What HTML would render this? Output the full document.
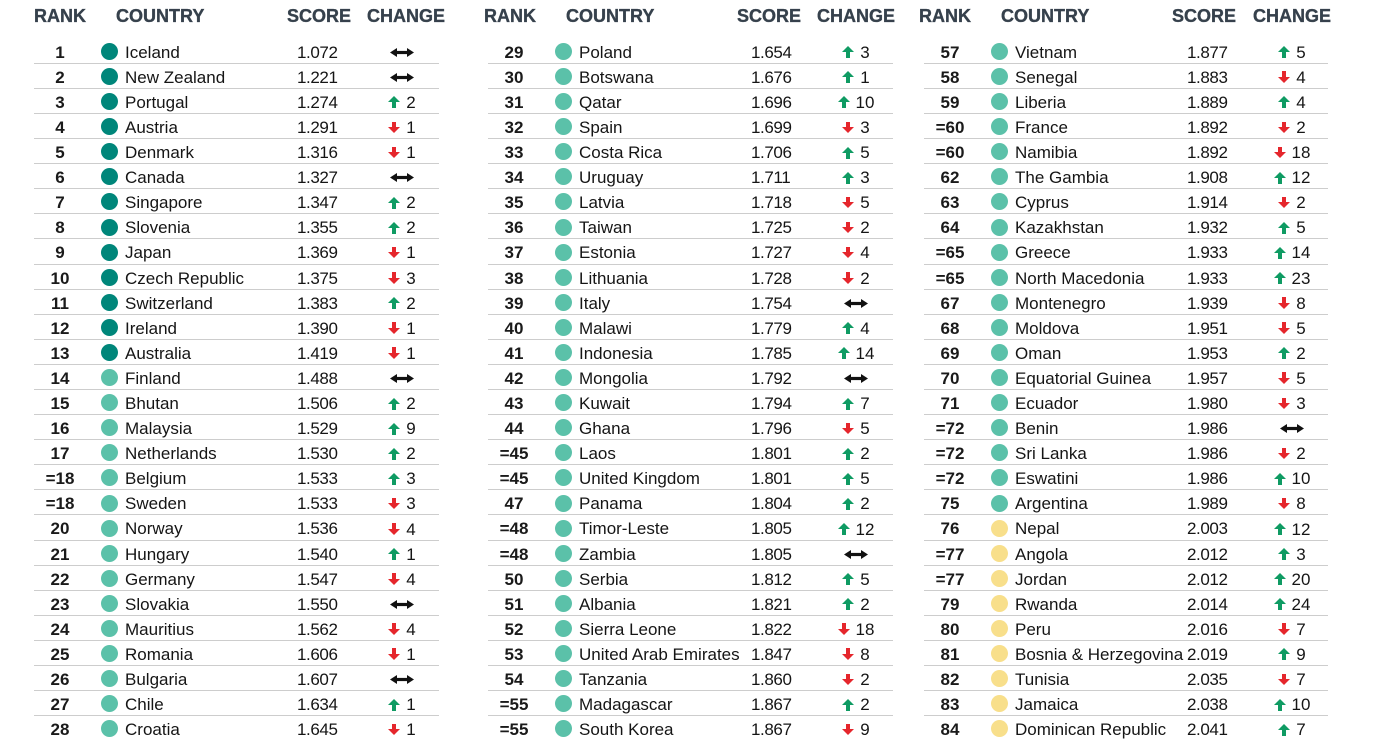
<!DOCTYPE html>
<html><head><meta charset="utf-8"><style>
*{margin:0;padding:0}
html,body{width:1382px;height:752px;background:#fff;overflow:hidden;font-family:"Liberation Sans",Arial,sans-serif;color:#151515}
.h{position:absolute;top:5.7px;line-height:20px;font-size:18px;font-weight:bold;color:#36414c;white-space:nowrap;-webkit-text-stroke:0.35px #36414c}
.col{position:absolute;top:38.7px;width:405px}
.r{position:relative;height:25.1px;font-size:17px}
.r::after{content:"";position:absolute;left:0;right:0;top:24.1px;height:1px;background:#cdcdcd}
.r:last-child::after{display:none}
.r b{position:absolute;left:0;width:52px;text-align:center;top:1px;line-height:25px;font-weight:bold;color:#1a1a1a}
.r i{position:absolute;left:66.5px;top:4.2px;width:17px;height:17px;border-radius:50%}
.d{background:#00867a}.l{background:#5bc1a9}.y{background:#f8df8b}
.n{position:absolute;left:91px;top:1px;line-height:25px;white-space:nowrap}
.s{position:absolute;left:263px;top:1px;line-height:25px;letter-spacing:-0.4px}
.ch{position:absolute;left:318px;width:100px;top:0;height:25.1px;padding-top:2px;box-sizing:border-box;display:flex;align-items:center;justify-content:center;gap:6px;line-height:17px}
.u,.dn{display:block;flex:0 0 12px;width:12px;height:12px;position:relative}
.u::before{content:"";position:absolute;left:0;top:0;border-left:6px solid transparent;border-right:6px solid transparent;border-bottom:6.5px solid #0f9b63}
.u::after{content:"";position:absolute;left:4px;top:6px;width:4.2px;height:6px;background:#0f9b63}
.dn::before{content:"";position:absolute;left:0;top:5.5px;border-left:6px solid transparent;border-right:6px solid transparent;border-top:6.5px solid #e5262c}
.dn::after{content:"";position:absolute;left:4px;top:0;width:4.2px;height:6px;background:#e5262c}
.eq{display:block;flex:0 0 24px}
</style></head><body>

<div class="h" style="left:34px">RANK</div>
<div class="h" style="left:116px">COUNTRY</div>
<div class="h" style="left:287px">SCORE</div>
<div class="h" style="left:367px">CHANGE</div>

<div class="h" style="left:484px">RANK</div>
<div class="h" style="left:566px">COUNTRY</div>
<div class="h" style="left:737px">SCORE</div>
<div class="h" style="left:817px">CHANGE</div>

<div class="h" style="left:919px">RANK</div>
<div class="h" style="left:1001px">COUNTRY</div>
<div class="h" style="left:1172px">SCORE</div>
<div class="h" style="left:1253px">CHANGE</div>

<div class="col" style="left:34px">
<div class="r"><b>1</b><i class="d"></i><span class="n">Iceland</span><span class="s">1.072</span><span class="ch"><svg class="eq" width="24" height="9"><path d="M0 4.5L7 0V9ZM24 4.5L17 0V9Z" fill="#111"/><rect x="5" y="2.9" width="14" height="3.2" fill="#111"/></svg></span></div>
<div class="r"><b>2</b><i class="d"></i><span class="n">New Zealand</span><span class="s">1.221</span><span class="ch"><svg class="eq" width="24" height="9"><path d="M0 4.5L7 0V9ZM24 4.5L17 0V9Z" fill="#111"/><rect x="5" y="2.9" width="14" height="3.2" fill="#111"/></svg></span></div>
<div class="r"><b>3</b><i class="d"></i><span class="n">Portugal</span><span class="s">1.274</span><span class="ch"><span class="u"></span><span>2</span></span></div>
<div class="r"><b>4</b><i class="d"></i><span class="n">Austria</span><span class="s">1.291</span><span class="ch"><span class="dn"></span><span>1</span></span></div>
<div class="r"><b>5</b><i class="d"></i><span class="n">Denmark</span><span class="s">1.316</span><span class="ch"><span class="dn"></span><span>1</span></span></div>
<div class="r"><b>6</b><i class="d"></i><span class="n">Canada</span><span class="s">1.327</span><span class="ch"><svg class="eq" width="24" height="9"><path d="M0 4.5L7 0V9ZM24 4.5L17 0V9Z" fill="#111"/><rect x="5" y="2.9" width="14" height="3.2" fill="#111"/></svg></span></div>
<div class="r"><b>7</b><i class="d"></i><span class="n">Singapore</span><span class="s">1.347</span><span class="ch"><span class="u"></span><span>2</span></span></div>
<div class="r"><b>8</b><i class="d"></i><span class="n">Slovenia</span><span class="s">1.355</span><span class="ch"><span class="u"></span><span>2</span></span></div>
<div class="r"><b>9</b><i class="d"></i><span class="n">Japan</span><span class="s">1.369</span><span class="ch"><span class="dn"></span><span>1</span></span></div>
<div class="r"><b>10</b><i class="d"></i><span class="n">Czech Republic</span><span class="s">1.375</span><span class="ch"><span class="dn"></span><span>3</span></span></div>
<div class="r"><b>11</b><i class="d"></i><span class="n">Switzerland</span><span class="s">1.383</span><span class="ch"><span class="u"></span><span>2</span></span></div>
<div class="r"><b>12</b><i class="d"></i><span class="n">Ireland</span><span class="s">1.390</span><span class="ch"><span class="dn"></span><span>1</span></span></div>
<div class="r"><b>13</b><i class="d"></i><span class="n">Australia</span><span class="s">1.419</span><span class="ch"><span class="dn"></span><span>1</span></span></div>
<div class="r"><b>14</b><i class="l"></i><span class="n">Finland</span><span class="s">1.488</span><span class="ch"><svg class="eq" width="24" height="9"><path d="M0 4.5L7 0V9ZM24 4.5L17 0V9Z" fill="#111"/><rect x="5" y="2.9" width="14" height="3.2" fill="#111"/></svg></span></div>
<div class="r"><b>15</b><i class="l"></i><span class="n">Bhutan</span><span class="s">1.506</span><span class="ch"><span class="u"></span><span>2</span></span></div>
<div class="r"><b>16</b><i class="l"></i><span class="n">Malaysia</span><span class="s">1.529</span><span class="ch"><span class="u"></span><span>9</span></span></div>
<div class="r"><b>17</b><i class="l"></i><span class="n">Netherlands</span><span class="s">1.530</span><span class="ch"><span class="u"></span><span>2</span></span></div>
<div class="r"><b>=18</b><i class="l"></i><span class="n">Belgium</span><span class="s">1.533</span><span class="ch"><span class="u"></span><span>3</span></span></div>
<div class="r"><b>=18</b><i class="l"></i><span class="n">Sweden</span><span class="s">1.533</span><span class="ch"><span class="dn"></span><span>3</span></span></div>
<div class="r"><b>20</b><i class="l"></i><span class="n">Norway</span><span class="s">1.536</span><span class="ch"><span class="dn"></span><span>4</span></span></div>
<div class="r"><b>21</b><i class="l"></i><span class="n">Hungary</span><span class="s">1.540</span><span class="ch"><span class="u"></span><span>1</span></span></div>
<div class="r"><b>22</b><i class="l"></i><span class="n">Germany</span><span class="s">1.547</span><span class="ch"><span class="dn"></span><span>4</span></span></div>
<div class="r"><b>23</b><i class="l"></i><span class="n">Slovakia</span><span class="s">1.550</span><span class="ch"><svg class="eq" width="24" height="9"><path d="M0 4.5L7 0V9ZM24 4.5L17 0V9Z" fill="#111"/><rect x="5" y="2.9" width="14" height="3.2" fill="#111"/></svg></span></div>
<div class="r"><b>24</b><i class="l"></i><span class="n">Mauritius</span><span class="s">1.562</span><span class="ch"><span class="dn"></span><span>4</span></span></div>
<div class="r"><b>25</b><i class="l"></i><span class="n">Romania</span><span class="s">1.606</span><span class="ch"><span class="dn"></span><span>1</span></span></div>
<div class="r"><b>26</b><i class="l"></i><span class="n">Bulgaria</span><span class="s">1.607</span><span class="ch"><svg class="eq" width="24" height="9"><path d="M0 4.5L7 0V9ZM24 4.5L17 0V9Z" fill="#111"/><rect x="5" y="2.9" width="14" height="3.2" fill="#111"/></svg></span></div>
<div class="r"><b>27</b><i class="l"></i><span class="n">Chile</span><span class="s">1.634</span><span class="ch"><span class="u"></span><span>1</span></span></div>
<div class="r"><b>28</b><i class="l"></i><span class="n">Croatia</span><span class="s">1.645</span><span class="ch"><span class="dn"></span><span>1</span></span></div>
</div>

<div class="col" style="left:488px">
<div class="r"><b>29</b><i class="l"></i><span class="n">Poland</span><span class="s">1.654</span><span class="ch"><span class="u"></span><span>3</span></span></div>
<div class="r"><b>30</b><i class="l"></i><span class="n">Botswana</span><span class="s">1.676</span><span class="ch"><span class="u"></span><span>1</span></span></div>
<div class="r"><b>31</b><i class="l"></i><span class="n">Qatar</span><span class="s">1.696</span><span class="ch"><span class="u"></span><span>10</span></span></div>
<div class="r"><b>32</b><i class="l"></i><span class="n">Spain</span><span class="s">1.699</span><span class="ch"><span class="dn"></span><span>3</span></span></div>
<div class="r"><b>33</b><i class="l"></i><span class="n">Costa Rica</span><span class="s">1.706</span><span class="ch"><span class="u"></span><span>5</span></span></div>
<div class="r"><b>34</b><i class="l"></i><span class="n">Uruguay</span><span class="s">1.711</span><span class="ch"><span class="u"></span><span>3</span></span></div>
<div class="r"><b>35</b><i class="l"></i><span class="n">Latvia</span><span class="s">1.718</span><span class="ch"><span class="dn"></span><span>5</span></span></div>
<div class="r"><b>36</b><i class="l"></i><span class="n">Taiwan</span><span class="s">1.725</span><span class="ch"><span class="dn"></span><span>2</span></span></div>
<div class="r"><b>37</b><i class="l"></i><span class="n">Estonia</span><span class="s">1.727</span><span class="ch"><span class="dn"></span><span>4</span></span></div>
<div class="r"><b>38</b><i class="l"></i><span class="n">Lithuania</span><span class="s">1.728</span><span class="ch"><span class="dn"></span><span>2</span></span></div>
<div class="r"><b>39</b><i class="l"></i><span class="n">Italy</span><span class="s">1.754</span><span class="ch"><svg class="eq" width="24" height="9"><path d="M0 4.5L7 0V9ZM24 4.5L17 0V9Z" fill="#111"/><rect x="5" y="2.9" width="14" height="3.2" fill="#111"/></svg></span></div>
<div class="r"><b>40</b><i class="l"></i><span class="n">Malawi</span><span class="s">1.779</span><span class="ch"><span class="u"></span><span>4</span></span></div>
<div class="r"><b>41</b><i class="l"></i><span class="n">Indonesia</span><span class="s">1.785</span><span class="ch"><span class="u"></span><span>14</span></span></div>
<div class="r"><b>42</b><i class="l"></i><span class="n">Mongolia</span><span class="s">1.792</span><span class="ch"><svg class="eq" width="24" height="9"><path d="M0 4.5L7 0V9ZM24 4.5L17 0V9Z" fill="#111"/><rect x="5" y="2.9" width="14" height="3.2" fill="#111"/></svg></span></div>
<div class="r"><b>43</b><i class="l"></i><span class="n">Kuwait</span><span class="s">1.794</span><span class="ch"><span class="u"></span><span>7</span></span></div>
<div class="r"><b>44</b><i class="l"></i><span class="n">Ghana</span><span class="s">1.796</span><span class="ch"><span class="dn"></span><span>5</span></span></div>
<div class="r"><b>=45</b><i class="l"></i><span class="n">Laos</span><span class="s">1.801</span><span class="ch"><span class="u"></span><span>2</span></span></div>
<div class="r"><b>=45</b><i class="l"></i><span class="n">United Kingdom</span><span class="s">1.801</span><span class="ch"><span class="u"></span><span>5</span></span></div>
<div class="r"><b>47</b><i class="l"></i><span class="n">Panama</span><span class="s">1.804</span><span class="ch"><span class="u"></span><span>2</span></span></div>
<div class="r"><b>=48</b><i class="l"></i><span class="n">Timor-Leste</span><span class="s">1.805</span><span class="ch"><span class="u"></span><span>12</span></span></div>
<div class="r"><b>=48</b><i class="l"></i><span class="n">Zambia</span><span class="s">1.805</span><span class="ch"><svg class="eq" width="24" height="9"><path d="M0 4.5L7 0V9ZM24 4.5L17 0V9Z" fill="#111"/><rect x="5" y="2.9" width="14" height="3.2" fill="#111"/></svg></span></div>
<div class="r"><b>50</b><i class="l"></i><span class="n">Serbia</span><span class="s">1.812</span><span class="ch"><span class="u"></span><span>5</span></span></div>
<div class="r"><b>51</b><i class="l"></i><span class="n">Albania</span><span class="s">1.821</span><span class="ch"><span class="u"></span><span>2</span></span></div>
<div class="r"><b>52</b><i class="l"></i><span class="n">Sierra Leone</span><span class="s">1.822</span><span class="ch"><span class="dn"></span><span>18</span></span></div>
<div class="r"><b>53</b><i class="l"></i><span class="n">United Arab Emirates</span><span class="s">1.847</span><span class="ch"><span class="dn"></span><span>8</span></span></div>
<div class="r"><b>54</b><i class="l"></i><span class="n">Tanzania</span><span class="s">1.860</span><span class="ch"><span class="dn"></span><span>2</span></span></div>
<div class="r"><b>=55</b><i class="l"></i><span class="n">Madagascar</span><span class="s">1.867</span><span class="ch"><span class="u"></span><span>2</span></span></div>
<div class="r"><b>=55</b><i class="l"></i><span class="n">South Korea</span><span class="s">1.867</span><span class="ch"><span class="dn"></span><span>9</span></span></div>
</div>

<div class="col" style="left:924px;width:404px">
<div class="r"><b>57</b><i class="l"></i><span class="n">Vietnam</span><span class="s">1.877</span><span class="ch"><span class="u"></span><span>5</span></span></div>
<div class="r"><b>58</b><i class="l"></i><span class="n">Senegal</span><span class="s">1.883</span><span class="ch"><span class="dn"></span><span>4</span></span></div>
<div class="r"><b>59</b><i class="l"></i><span class="n">Liberia</span><span class="s">1.889</span><span class="ch"><span class="u"></span><span>4</span></span></div>
<div class="r"><b>=60</b><i class="l"></i><span class="n">France</span><span class="s">1.892</span><span class="ch"><span class="dn"></span><span>2</span></span></div>
<div class="r"><b>=60</b><i class="l"></i><span class="n">Namibia</span><span class="s">1.892</span><span class="ch"><span class="dn"></span><span>18</span></span></div>
<div class="r"><b>62</b><i class="l"></i><span class="n">The Gambia</span><span class="s">1.908</span><span class="ch"><span class="u"></span><span>12</span></span></div>
<div class="r"><b>63</b><i class="l"></i><span class="n">Cyprus</span><span class="s">1.914</span><span class="ch"><span class="dn"></span><span>2</span></span></div>
<div class="r"><b>64</b><i class="l"></i><span class="n">Kazakhstan</span><span class="s">1.932</span><span class="ch"><span class="u"></span><span>5</span></span></div>
<div class="r"><b>=65</b><i class="l"></i><span class="n">Greece</span><span class="s">1.933</span><span class="ch"><span class="u"></span><span>14</span></span></div>
<div class="r"><b>=65</b><i class="l"></i><span class="n">North Macedonia</span><span class="s">1.933</span><span class="ch"><span class="u"></span><span>23</span></span></div>
<div class="r"><b>67</b><i class="l"></i><span class="n">Montenegro</span><span class="s">1.939</span><span class="ch"><span class="dn"></span><span>8</span></span></div>
<div class="r"><b>68</b><i class="l"></i><span class="n">Moldova</span><span class="s">1.951</span><span class="ch"><span class="dn"></span><span>5</span></span></div>
<div class="r"><b>69</b><i class="l"></i><span class="n">Oman</span><span class="s">1.953</span><span class="ch"><span class="u"></span><span>2</span></span></div>
<div class="r"><b>70</b><i class="l"></i><span class="n">Equatorial Guinea</span><span class="s">1.957</span><span class="ch"><span class="dn"></span><span>5</span></span></div>
<div class="r"><b>71</b><i class="l"></i><span class="n">Ecuador</span><span class="s">1.980</span><span class="ch"><span class="dn"></span><span>3</span></span></div>
<div class="r"><b>=72</b><i class="l"></i><span class="n">Benin</span><span class="s">1.986</span><span class="ch"><svg class="eq" width="24" height="9"><path d="M0 4.5L7 0V9ZM24 4.5L17 0V9Z" fill="#111"/><rect x="5" y="2.9" width="14" height="3.2" fill="#111"/></svg></span></div>
<div class="r"><b>=72</b><i class="l"></i><span class="n">Sri Lanka</span><span class="s">1.986</span><span class="ch"><span class="dn"></span><span>2</span></span></div>
<div class="r"><b>=72</b><i class="l"></i><span class="n">Eswatini</span><span class="s">1.986</span><span class="ch"><span class="u"></span><span>10</span></span></div>
<div class="r"><b>75</b><i class="l"></i><span class="n">Argentina</span><span class="s">1.989</span><span class="ch"><span class="dn"></span><span>8</span></span></div>
<div class="r"><b>76</b><i class="y"></i><span class="n">Nepal</span><span class="s">2.003</span><span class="ch"><span class="u"></span><span>12</span></span></div>
<div class="r"><b>=77</b><i class="y"></i><span class="n">Angola</span><span class="s">2.012</span><span class="ch"><span class="u"></span><span>3</span></span></div>
<div class="r"><b>=77</b><i class="y"></i><span class="n">Jordan</span><span class="s">2.012</span><span class="ch"><span class="u"></span><span>20</span></span></div>
<div class="r"><b>79</b><i class="y"></i><span class="n">Rwanda</span><span class="s">2.014</span><span class="ch"><span class="u"></span><span>24</span></span></div>
<div class="r"><b>80</b><i class="y"></i><span class="n">Peru</span><span class="s">2.016</span><span class="ch"><span class="dn"></span><span>7</span></span></div>
<div class="r"><b>81</b><i class="y"></i><span class="n">Bosnia &amp; Herzegovina</span><span class="s">2.019</span><span class="ch"><span class="u"></span><span>9</span></span></div>
<div class="r"><b>82</b><i class="y"></i><span class="n">Tunisia</span><span class="s">2.035</span><span class="ch"><span class="dn"></span><span>7</span></span></div>
<div class="r"><b>83</b><i class="y"></i><span class="n">Jamaica</span><span class="s">2.038</span><span class="ch"><span class="u"></span><span>10</span></span></div>
<div class="r"><b>84</b><i class="y"></i><span class="n">Dominican Republic</span><span class="s">2.041</span><span class="ch"><span class="u"></span><span>7</span></span></div>
</div>

</body></html>
